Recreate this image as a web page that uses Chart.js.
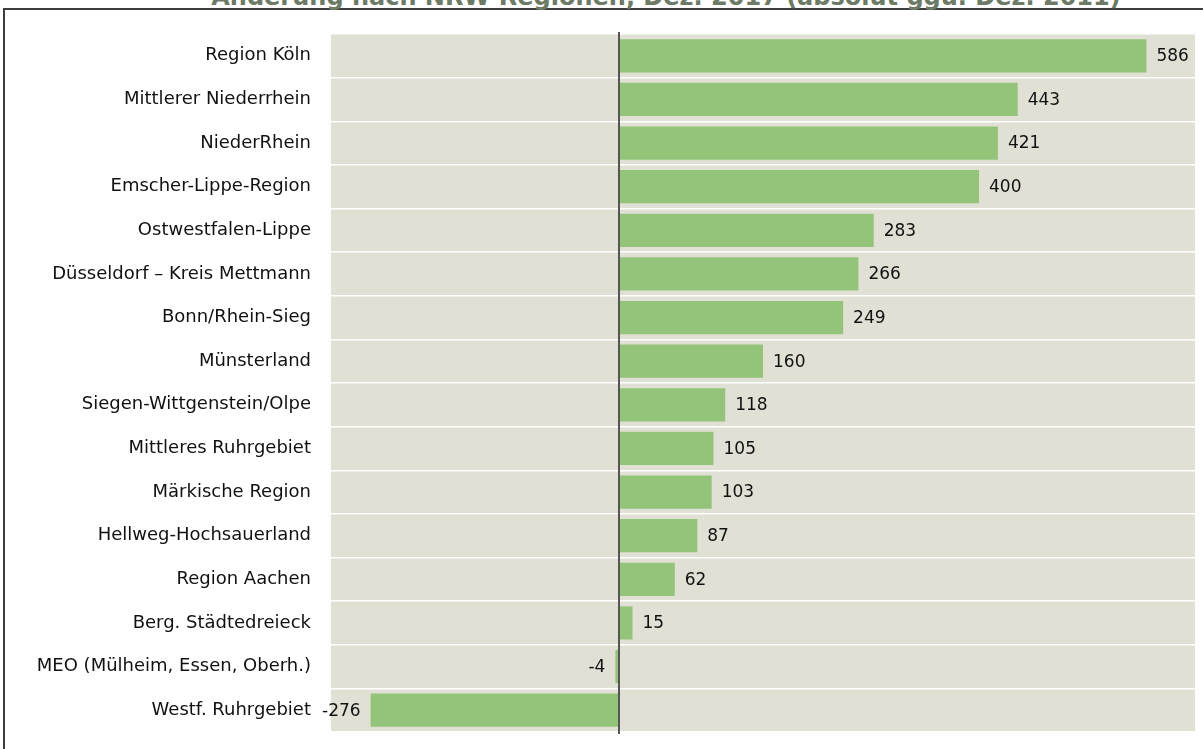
<!DOCTYPE html>
<html>
<head>
<meta charset="utf-8">
<script src="https://cdn.jsdelivr.net/npm/chart.js@4.4.1/dist/chart.umd.min.js"></script>
<style>
  html, body { margin: 0; padding: 0; background: #fff; overflow: hidden; }
  body { width: 1203px; height: 749px; position: relative; }
  #frame { position: absolute; left: 3px; top: 8px; width: 1400px; height: 900px;
           border-top: 2px solid #3c3c3c; border-left: 2px solid #3c3c3c; }
  #title { position: absolute; left: 0; width: 1332px; top: -15px; text-align: center;
           font-family: "DejaVu Sans", sans-serif; font-weight: bold; font-size: 24px;
           color: #6c7a66; white-space: nowrap; line-height: 24px; }
  #wrap { position: absolute; left: 0; top: 0; width: 1203px; height: 749px; }
  canvas { display: block; }
</style>
</head>
<body>
<div id="frame"></div>
<div id="title">Änderung nach NRW-Regionen, Dez. 2017 (absolut ggü. Dez. 2011)</div>
<div id="wrap"><canvas id="c" width="1203" height="749"></canvas></div>
<script>
const categories = [
  "Region Köln",
  "Mittlerer Niederrhein",
  "NiederRhein",
  "Emscher-Lippe-Region",
  "Ostwestfalen-Lippe",
  "Düsseldorf – Kreis Mettmann",
  "Bonn/Rhein-Sieg",
  "Münsterland",
  "Siegen-Wittgenstein/Olpe",
  "Mittleres Ruhrgebiet",
  "Märkische Region",
  "Hellweg-Hochsauerland",
  "Region Aachen",
  "Berg. Städtedreieck",
  "MEO (Mülheim, Essen, Oberh.)",
  "Westf. Ruhrgebiet"
];
const values = [586, 443, 421, 400, 283, 266, 249, 160, 118, 105, 103, 87, 62, 15, -4, -276];
const axisMin = -320;
const axisMax = 640;

const FONT = '"DejaVu Sans", sans-serif';

const bgPlugin = {
  id: 'bg',
  beforeDraw(chart) {
    const {ctx, chartArea: a} = chart;
    ctx.save();
    ctx.fillStyle = '#e0e0d4';
    ctx.fillRect(a.left, a.top, a.right - a.left, a.bottom - a.top);
    ctx.restore();
  },
  afterDatasetsDraw(chart) {
    const {ctx, chartArea: a} = chart;
    const x0 = Math.round(chart.scales.x.getPixelForValue(0));
    ctx.save();
    ctx.strokeStyle = '#555555';
    ctx.lineWidth = 2;
    ctx.beginPath();
    ctx.moveTo(x0, a.top - 2);
    ctx.lineTo(x0, a.bottom + 2);
    ctx.stroke();
    // value labels
    const meta = chart.getDatasetMeta(0);
    ctx.font = '17px ' + FONT;
    ctx.fillStyle = '#111111';
    ctx.textBaseline = 'middle';
    meta.data.forEach((bar, i) => {
      const v = values[i];
      if (v >= 0) {
        ctx.textAlign = 'left';
        ctx.fillText(String(v), bar.x + 10, bar.y + 1);
      } else {
        ctx.textAlign = 'right';
        ctx.fillText(String(v), bar.x - 10, bar.y + 1);
      }
    });
    ctx.restore();
  }
};

new Chart(document.getElementById('c'), {
  type: 'bar',
  data: {
    labels: categories,
    datasets: [{
      data: values,
      backgroundColor: '#93c47a',
      borderWidth: 0,
      barPercentage: 0.76,
      categoryPercentage: 1.0
    }]
  },
  options: {
    indexAxis: 'y',
    responsive: false,
    animation: false,
    devicePixelRatio: 1,
    layout: { padding: { left: 0, right: 8, top: 34, bottom: 17 } },
    plugins: { legend: { display: false }, tooltip: { enabled: false }, title: { display: false } },
    scales: {
      x: {
        display: false,
        min: axisMin,
        max: axisMax,
        grid: { display: false }
      },
      y: {
        position: 'left',
        afterFit(scale) { scale.width = 331; },
        border: { display: false },
        grid: { color: '#ffffff', lineWidth: 1.5, drawTicks: true, tickLength: 20, tickColor: 'rgba(0,0,0,0)', offset: true },
        ticks: { padding: 0, color: '#111111', font: { family: FONT, size: 18 } }
      }
    }
  },
  plugins: [bgPlugin]
});
</script>
</body>
</html>
